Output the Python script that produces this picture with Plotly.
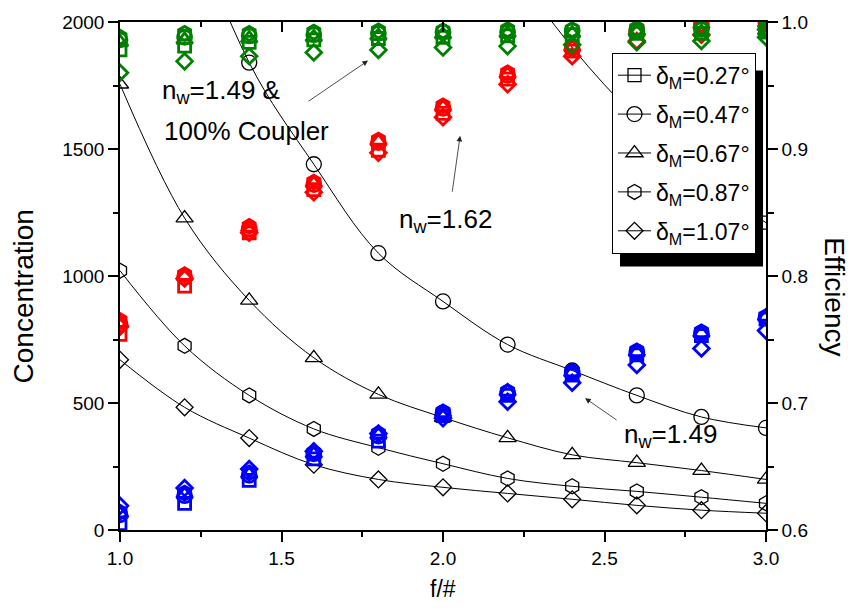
import plotly.graph_objects as go

# ---------------- data ----------------
f_number = [1.0, 1.2, 1.4, 1.6, 1.8, 2.0, 2.2, 2.4, 2.6, 2.8, 3.0]

# Concentration (left axis), black open markers with smooth lines
conc_027 = [10900, 7560, 5560, 4260, 3360, 2720, 2250, 1900, 1620, 1390, 1210]
conc_047 = [3600, 2500, 1840, 1440, 1090, 900, 730, 628, 530, 445, 402]
conc_067 = [1755, 1228, 904, 678, 534, 443, 363, 296, 265, 234, 199]
conc_087 = [1021, 725, 530, 398, 324, 261, 203, 172, 152, 129, 105]
conc_107 = [670, 483, 362, 257, 199, 168, 144, 121, 97, 78, 66]

# Efficiency (right axis): n_w=1.49 & 100% coupler (green)
eff_green_027 = [0.978, 0.981, 0.984, 0.986, 0.987, 0.988, 0.989, 0.990, 0.991, 0.991, 0.992]
eff_green_047 = [0.986, 0.988, 0.989, 0.990, 0.991, 0.992, 0.992, 0.993, 0.993, 0.994, 0.994]
eff_green_067 = [0.984, 0.986, 0.987, 0.988, 0.989, 0.990, 0.991, 0.991, 0.992, 0.992, 0.993]
eff_green_087 = [0.988, 0.991, 0.991, 0.992, 0.993, 0.993, 0.994, 0.994, 0.995, 0.995, 0.996]
eff_green_107 = [0.960, 0.969, 0.973, 0.976, 0.978, 0.980, 0.981, 0.982, 0.984, 0.985, 0.988]

# n_w=1.62 (red)
eff_red_027 = [0.754, 0.792, 0.834, 0.868, 0.899, 0.928, 0.955, 0.977, 0.992, 0.997, 0.999]
eff_red_047 = [0.762, 0.799, 0.837, 0.872, 0.905, 0.932, 0.958, 0.979, 0.993, 0.998, 0.999]
eff_red_067 = [0.763, 0.800, 0.838, 0.873, 0.906, 0.933, 0.959, 0.980, 0.993, 0.998, 0.999]
eff_red_087 = [0.765, 0.801, 0.839, 0.874, 0.907, 0.934, 0.960, 0.980, 0.994, 0.998, 0.999]
eff_red_107 = [0.760, 0.798, 0.834, 0.866, 0.897, 0.925, 0.951, 0.973, 0.985, 0.990, 0.994]

# n_w=1.49 (blue)
eff_blue_027 = [0.605, 0.621, 0.639, 0.656, 0.670, 0.690, 0.706, 0.722, 0.738, 0.753, 0.766]
eff_blue_047 = [0.612, 0.627, 0.643, 0.660, 0.674, 0.692, 0.708, 0.724, 0.740, 0.755, 0.767]
eff_blue_067 = [0.613, 0.628, 0.644, 0.660, 0.675, 0.692, 0.709, 0.724, 0.740, 0.755, 0.768]
eff_blue_087 = [0.614, 0.629, 0.645, 0.661, 0.676, 0.693, 0.709, 0.725, 0.741, 0.756, 0.768]
eff_blue_107 = [0.619, 0.633, 0.648, 0.662, 0.676, 0.688, 0.701, 0.716, 0.730, 0.743, 0.757]

legend_labels = ["δ<sub>M</sub>=0.27°", "δ<sub>M</sub>=0.47°", "δ<sub>M</sub>=0.67°",
                 "δ<sub>M</sub>=0.87°", "δ<sub>M</sub>=1.07°"]
symbols = ["square-open", "circle-open", "triangle-up-open", "hexagon-open", "diamond-open"]
sizes = [13, 15, 15, 15, 13]

FONT = "Liberation Sans, Arial, sans-serif"

fig = go.Figure()

conc_series = [conc_027, conc_047, conc_067, conc_087, conc_107]
for i, (ys, lab) in enumerate(zip(conc_series, legend_labels)):
    fig.add_trace(go.Scatter(
        x=f_number, y=ys, name=lab, mode="lines+markers",
        line=dict(color="black", width=1, shape="spline"),
        marker=dict(symbol=symbols[i], size=sizes[i], color="black",
                    line=dict(color="black", width=1.3)),
        legendgroup=f"g{i}", xaxis="x", yaxis="y"))

eff_groups = [
    ("#0000FF", [eff_blue_027, eff_blue_047, eff_blue_067, eff_blue_087, eff_blue_107]),
    ("#FF0000", [eff_red_027, eff_red_047, eff_red_067, eff_red_087, eff_red_107]),
    ("#008000", [eff_green_027, eff_green_047, eff_green_067, eff_green_087, eff_green_107]),
]
for color, series in eff_groups:
    for i, ys in enumerate(series):
        fig.add_trace(go.Scatter(
            x=f_number, y=ys, mode="markers", showlegend=False,
            marker=dict(symbol=symbols[i], size=sizes[i] - 1, color=color,
                        line=dict(color=color, width=2.8)),
            xaxis="x", yaxis="y2", hoverinfo="skip"))

# dummy trace so the top axis is drawn
fig.add_trace(go.Scatter(x=[None], y=[None], xaxis="x2", yaxis="y",
                         showlegend=False, hoverinfo="skip"))

tickfont = dict(family=FONT, size=19, color="black")
axis_common = dict(showline=True, linecolor="black", linewidth=1.5, showgrid=False,
                   zeroline=False, tickcolor="black", tickwidth=1.5, ticklen=10,
                   tickfont=tickfont)

fig.update_layout(
    width=852, height=610,
    margin=dict(l=120, r=86, t=17, b=80),
    paper_bgcolor="white", plot_bgcolor="white",
    font=dict(family=FONT, color="black"),
    xaxis=dict(range=[1.0, 3.0], dtick=0.5, tick0=1.0, ticks="outside", tickformat=".1f",
               minor=dict(dtick=0.25, ticks="outside", ticklen=5, tickcolor="black", tickwidth=1.5),
               **axis_common),
    xaxis2=dict(range=[1.0, 3.0], overlaying="x", side="top", anchor="y", dtick=0.5, tick0=1.0,
                ticks="inside", showticklabels=False,
                minor=dict(dtick=0.25, ticks="inside", ticklen=5, tickcolor="black", tickwidth=1.5),
                **axis_common),
    yaxis=dict(range=[0, 2000], dtick=500, ticks="outside",
               minor=dict(dtick=250, ticks="outside", ticklen=5, tickcolor="black", tickwidth=1.5),
               **axis_common),
    yaxis2=dict(range=[0.6, 1.0], dtick=0.1, tick0=0.6, ticks="outside", tickformat=".1f",
                overlaying="y", side="right", anchor="x",
                minor=dict(dtick=0.05, ticks="outside", ticklen=6, tickcolor="black", tickwidth=1.5),
                **axis_common),
    showlegend=True,
    legend=dict(x=0.7616, y=0.9395, xanchor="left", yanchor="top",
                bgcolor="white", bordercolor="black", borderwidth=1,
                font=dict(family=FONT, size=23, color="black"),
                tracegroupgap=6, itemwidth=33),
)

# legend drop shadow
fig.add_shape(type="rect", xref="paper", yref="paper",
              x0=0.774, x1=0.9954, y0=0.5185, y1=0.9045,
              fillcolor="black", line=dict(width=0), layer="above")

ann_font = dict(family=FONT, size=26, color="black")
title_font = dict(family=FONT, size=28, color="black")
# axis titles
fig.add_annotation(text="Concentration", xref="paper", yref="paper", x=-0.150, y=0.46,
                   xanchor="center", yanchor="middle",
                   textangle=-90, showarrow=False, font=title_font)
fig.add_annotation(text="Efficiency", xref="paper", yref="paper", x=1.107, y=0.46,
                   xanchor="center", yanchor="middle",
                   textangle=90, showarrow=False, font=title_font)
fig.add_annotation(text="f/#", xref="paper", yref="paper", x=0.5, y=-0.117,
                   xanchor="center", yanchor="middle",
                   showarrow=False, font=dict(family=FONT, size=23, color="black"))

# text labels
fig.add_annotation(text="n<sub>w</sub>=1.49 &", x=1.124, y=1727, xref="x", yref="y",
                   xanchor="left", yanchor="middle", showarrow=False, font=ann_font)
fig.add_annotation(text="100% Coupler", x=1.130, y=1571, xref="x", yref="y",
                   xanchor="left", yanchor="middle", showarrow=False, font=ann_font)
fig.add_annotation(text="n<sub>w</sub>=1.62", x=1.858, y=1220, xref="x", yref="y",
                   xanchor="left", yanchor="middle", showarrow=False, font=ann_font)
fig.add_annotation(text="n<sub>w</sub>=1.49", x=2.554, y=373, xref="x", yref="y",
                   xanchor="left", yanchor="middle", showarrow=False, font=ann_font)

# arrows
for (hx, hy, tx, ty) in [(1.768, 1848, 1.579, 1684),
                         (2.053, 1552, 2.028, 1326),
                         (2.440, 519, 2.542, 429)]:
    fig.add_annotation(x=hx, y=hy, ax=tx, ay=ty, xref="x", yref="y", axref="x", ayref="y",
                       text="", showarrow=True, arrowhead=2, arrowsize=1.4, arrowwidth=0.8,
                       arrowcolor="#222222")

fig.write_html("out.html")
